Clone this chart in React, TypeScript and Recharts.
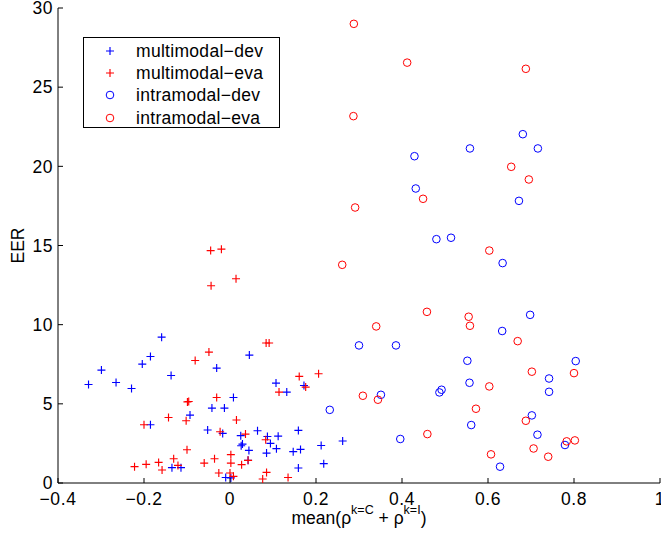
import React from 'react';
import { ScatterChart, Scatter, XAxis, YAxis, Legend } from 'recharts';

const xTicks = [-0.4, -0.2, 0, 0.2, 0.4, 0.6, 0.8, 1];
const xTickLabels = ['\u22120.4', '\u22120.2', '0', '0.2', '0.4', '0.6', '0.8', '1'];
const yTicks = [0, 5, 10, 15, 20, 25, 30];
const yTickLabels = ['0', '5', '10', '15', '20', '25', '30'];

const multimodalDev = [
  { x: -0.329, y: 6.22 }, { x: -0.299, y: 7.13 }, { x: -0.265, y: 6.35 }, { x: -0.229, y: 5.97 },
  { x: -0.204, y: 7.51 }, { x: -0.185, y: 7.99 }, { x: -0.159, y: 9.21 }, { x: -0.137, y: 6.79 },
  { x: -0.185, y: 3.68 }, { x: -0.135, y: 0.97 }, { x: -0.114, y: 0.97 }, { x: -0.093, y: 4.29 },
  { x: -0.031, y: 7.26 }, { x: -0.042, y: 4.73 }, { x: -0.013, y: 4.73 }, { x: 0.008, y: 5.4 },
  { x: -0.052, y: 3.35 }, { x: -0.017, y: 3.13 }, { x: 0.045, y: 8.08 }, { x: 0.107, y: 6.31 },
  { x: 0.132, y: 5.74 }, { x: 0.172, y: 6.16 }, { x: 0.064, y: 3.3 }, { x: 0.025, y: 2.99 },
  { x: 0.029, y: 2.46 }, { x: 0.026, y: 2.35 }, { x: 0.044, y: 2.06 }, { x: 0.042, y: 1.43 },
  { x: 0.087, y: 2.94 }, { x: 0.094, y: 2.5 }, { x: 0.112, y: 2.96 }, { x: 0.108, y: 2.17 },
  { x: 0.085, y: 1.89 }, { x: 0.147, y: 1.98 }, { x: 0.164, y: 2.12 }, { x: 0.159, y: 3.32 },
  { x: 0.159, y: 0.95 }, { x: 0.212, y: 2.37 }, { x: 0.218, y: 1.22 }, { x: -0.01, y: 0.35 },
  { x: 0.002, y: 0.32 }, { x: 0.262, y: 2.65 },
];

const multimodalEva = [
  { x: -0.222, y: 1.03 }, { x: -0.195, y: 1.18 }, { x: -0.166, y: 1.3 }, { x: -0.158, y: 0.82 },
  { x: -0.131, y: 1.53 }, { x: -0.121, y: 1.11 }, { x: -0.2, y: 3.68 }, { x: -0.143, y: 4.14 },
  { x: -0.102, y: 3.93 }, { x: -0.096, y: 5.15 }, { x: -0.099, y: 5.12 }, { x: -0.081, y: 7.74 },
  { x: -0.049, y: 8.27 }, { x: -0.1, y: 2.1 }, { x: -0.06, y: 1.26 }, { x: -0.036, y: 1.53 },
  { x: -0.031, y: 5.4 }, { x: -0.023, y: 3.24 }, { x: -0.044, y: 12.46 }, { x: 0.014, y: 12.9 },
  { x: -0.045, y: 14.68 }, { x: -0.02, y: 14.77 }, { x: 0.015, y: 3.98 }, { x: 0.002, y: 1.79 },
  { x: 0.002, y: 1.26 }, { x: -0.026, y: 0.63 }, { x: 0.0, y: 0.63 }, { x: 0.008, y: 0.42 },
  { x: 0.027, y: 1.16 }, { x: 0.036, y: 3.09 }, { x: 0.042, y: 1.43 }, { x: 0.083, y: 2.73 },
  { x: 0.085, y: 0.67 }, { x: 0.076, y: 0.25 }, { x: 0.084, y: 8.84 }, { x: 0.091, y: 8.84 },
  { x: 0.114, y: 5.74 }, { x: 0.135, y: 0.35 }, { x: 0.161, y: 6.73 }, { x: 0.176, y: 6.06 },
  { x: 0.206, y: 6.9 },
];

const intramodalDev = [
  { x: 0.681, y: 22.03 }, { x: 0.558, y: 21.13 }, { x: 0.716, y: 21.13 }, { x: 0.429, y: 20.64 },
  { x: 0.432, y: 18.6 }, { x: 0.672, y: 17.82 }, { x: 0.48, y: 15.4 }, { x: 0.514, y: 15.49 },
  { x: 0.634, y: 13.89 }, { x: 0.698, y: 10.62 }, { x: 0.633, y: 9.6 }, { x: 0.3, y: 8.69 },
  { x: 0.386, y: 8.69 }, { x: 0.552, y: 7.72 }, { x: 0.804, y: 7.7 }, { x: 0.742, y: 6.6 },
  { x: 0.557, y: 6.33 }, { x: 0.742, y: 5.76 }, { x: 0.492, y: 5.89 }, { x: 0.487, y: 5.72 },
  { x: 0.351, y: 5.57 }, { x: 0.232, y: 4.62 }, { x: 0.702, y: 4.27 }, { x: 0.561, y: 3.66 },
  { x: 0.715, y: 3.05 }, { x: 0.396, y: 2.78 }, { x: 0.779, y: 2.4 }, { x: 0.628, y: 1.03 },
];

const intramodalEva = [
  { x: 0.288, y: 29.0 }, { x: 0.412, y: 26.55 }, { x: 0.688, y: 26.16 }, { x: 0.287, y: 23.17 },
  { x: 0.654, y: 19.97 }, { x: 0.695, y: 19.17 }, { x: 0.449, y: 17.95 }, { x: 0.291, y: 17.4 },
  { x: 0.603, y: 14.68 }, { x: 0.261, y: 13.78 }, { x: 0.458, y: 10.81 }, { x: 0.555, y: 10.5 },
  { x: 0.558, y: 9.93 }, { x: 0.34, y: 9.89 }, { x: 0.669, y: 8.96 }, { x: 0.702, y: 7.03 },
  { x: 0.8, y: 6.94 }, { x: 0.603, y: 6.1 }, { x: 0.309, y: 5.51 }, { x: 0.344, y: 5.26 },
  { x: 0.572, y: 4.69 }, { x: 0.688, y: 3.93 }, { x: 0.459, y: 3.09 }, { x: 0.783, y: 2.63 },
  { x: 0.802, y: 2.69 }, { x: 0.706, y: 2.18 }, { x: 0.607, y: 1.81 }, { x: 0.74, y: 1.66 },
];

const seriesNames = ['multimodal\u2212dev', 'multimodal\u2212eva', 'intramodal\u2212dev', 'intramodal\u2212eva'];
const seriesColors = ['#0000ff', '#ff0000', '#0000ff', '#ff0000'];
const seriesMarkers = ['plus', 'plus', 'circle', 'circle'];
const seriesData = [multimodalDev, multimodalEva, intramodalDev, intramodalEva];

const FONT = '"Liberation Sans", Arial, Helvetica, sans-serif';
const FS = 17.5;
const TICK_LEN = 5;

function MarkerShape({ cx, cy, kind, color }: any) {
  if (cx == null || cy == null) return null;
  if (kind === 'plus') {
    const h = 4;
    return (
      <path
        d={`M${cx - h},${cy}H${cx + h}M${cx},${cy - h}V${cy + h}`}
        stroke={color}
        strokeWidth={1.15}
        fill="none"
      />
    );
  }
  return <circle cx={cx} cy={cy} r={3.8} stroke={color} strokeWidth={1} fill="none" />;
}

function labelFor(values: number[], labels: string[], v: number) {
  const i = values.findIndex((t) => Math.abs(t - v) < 1e-9);
  return i >= 0 ? labels[i] : String(v);
}

function BottomTick({ x, y, payload }: any) {
  return (
    <g>
      <line x1={x} y1={y} x2={x} y2={y - TICK_LEN} stroke="#000" strokeWidth={1} />
      <text x={x} y={y + 9.5} dy="0.71em" textAnchor="middle" fontSize={FS} fontFamily={FONT} fill="#000" letterSpacing={0.6}>
        {labelFor(xTicks, xTickLabels, payload.value)}
      </text>
    </g>
  );
}

function TopTick({ x, y }: any) {
  return <line x1={x} y1={y} x2={x} y2={y + TICK_LEN} stroke="#000" strokeWidth={1} />;
}

function LeftTick({ x, y, payload }: any) {
  return (
    <g>
      <line x1={x} y1={y} x2={x + TICK_LEN} y2={y} stroke="#000" strokeWidth={1} />
      <text x={x - 5} y={y} dy="0.355em" textAnchor="end" fontSize={FS} fontFamily={FONT} fill="#000" letterSpacing={0.5}>
        {labelFor(yTicks, yTickLabels, payload.value)}
      </text>
    </g>
  );
}

function RightTick({ x, y }: any) {
  return <line x1={x} y1={y} x2={x - TICK_LEN} y2={y} stroke="#000" strokeWidth={1} />;
}

function XLabel({ viewBox }: any) {
  const cx = viewBox.x + viewBox.width / 2;
  const base = viewBox.y + 41;
  return (
    <text x={cx} y={base} textAnchor="middle" fontSize={FS} fontFamily={FONT} fill="#000">
      mean(ρ
      <tspan dy={-10} fontSize={12.5}>k=C</tspan>
      <tspan dy={10}> + ρ</tspan>
      <tspan dy={-10} fontSize={12.5}>k=I</tspan>
      <tspan dy={10}>)</tspan>
    </text>
  );
}

function YLabel({ viewBox }: any) {
  const cy = viewBox.y + viewBox.height / 2;
  const x = 24;
  return (
    <text x={x} y={cy} transform={`rotate(-90 ${x} ${cy})`} textAnchor="middle" fontSize={FS} fontFamily={FONT} fill="#000">
      EER
    </text>
  );
}

function LegendBox() {
  return (
    <div
      style={{
        position: 'absolute',
        left: 83,
        top: 37,
        width: 197,
        height: 91,
        boxSizing: 'border-box',
        border: '1px solid #000',
        background: '#fff',
        paddingTop: 2,
        fontFamily: FONT,
        fontSize: FS,
        color: '#000',
      }}
    >
      {seriesNames.map((name, i) => (
        <div key={name} style={{ position: 'relative', height: 22.2, lineHeight: '22.2px' }}>
          <svg width={14} height={14} style={{ position: 'absolute', left: 19, top: 4 }}>
            <MarkerShape cx={7} cy={7} kind={seriesMarkers[i]} color={seriesColors[i]} />
          </svg>
          <span style={{ position: 'absolute', left: 52, top: 0, whiteSpace: 'nowrap', letterSpacing: 0.3 }}>{name}</span>
        </div>
      ))}
    </div>
  );
}

export default function App() {
  return (
    <div style={{ position: 'absolute', left: 0, top: 0, width: 661, height: 537, background: '#fff' }}>
      <ScatterChart width={661} height={537} margin={{ top: 8, right: 1, bottom: 0, left: 0 }}>
        <XAxis
          xAxisId="b"
          dataKey="x"
          type="number"
          domain={[-0.4, 1]}
          ticks={xTicks}
          interval={0}
          height={54}
          tickSize={0}
          tickMargin={0}
          tickLine={false}
          axisLine={{ stroke: '#000', strokeWidth: 1 }}
          tick={<BottomTick />}
          allowDataOverflow
          label={<XLabel />}
        />
        <XAxis
          xAxisId="t"
          orientation="top"
          dataKey="x"
          type="number"
          domain={[-0.4, 1]}
          ticks={xTicks}
          interval={0}
          height={0}
          tickSize={0}
          tickMargin={0}
          tickLine={false}
          axisLine={{ stroke: '#000', strokeWidth: 1 }}
          tick={<TopTick />}
          allowDataOverflow
        />
        <YAxis
          yAxisId="l"
          dataKey="y"
          type="number"
          domain={[0, 30]}
          ticks={yTicks}
          interval={0}
          width={58}
          tickSize={0}
          tickMargin={0}
          tickLine={false}
          axisLine={{ stroke: '#000', strokeWidth: 1 }}
          tick={<LeftTick />}
          allowDataOverflow
          label={<YLabel />}
        />
        <YAxis
          yAxisId="r"
          orientation="right"
          dataKey="y"
          type="number"
          domain={[0, 30]}
          ticks={yTicks}
          interval={0}
          width={0}
          tickSize={0}
          tickMargin={0}
          tickLine={false}
          axisLine={{ stroke: '#000', strokeWidth: 1 }}
          tick={<RightTick />}
          allowDataOverflow
        />
        {seriesData.map((data, i) => (
          <Scatter
            key={seriesNames[i]}
            name={seriesNames[i]}
            data={data}
            xAxisId="b"
            yAxisId="l"
            isAnimationActive={false}
            shape={(p: any) => <MarkerShape cx={p.cx} cy={p.cy} kind={seriesMarkers[i]} color={seriesColors[i]} />}
          />
        ))}
        <Legend content={() => null} />
      </ScatterChart>
      <LegendBox />
    </div>
  );
}
